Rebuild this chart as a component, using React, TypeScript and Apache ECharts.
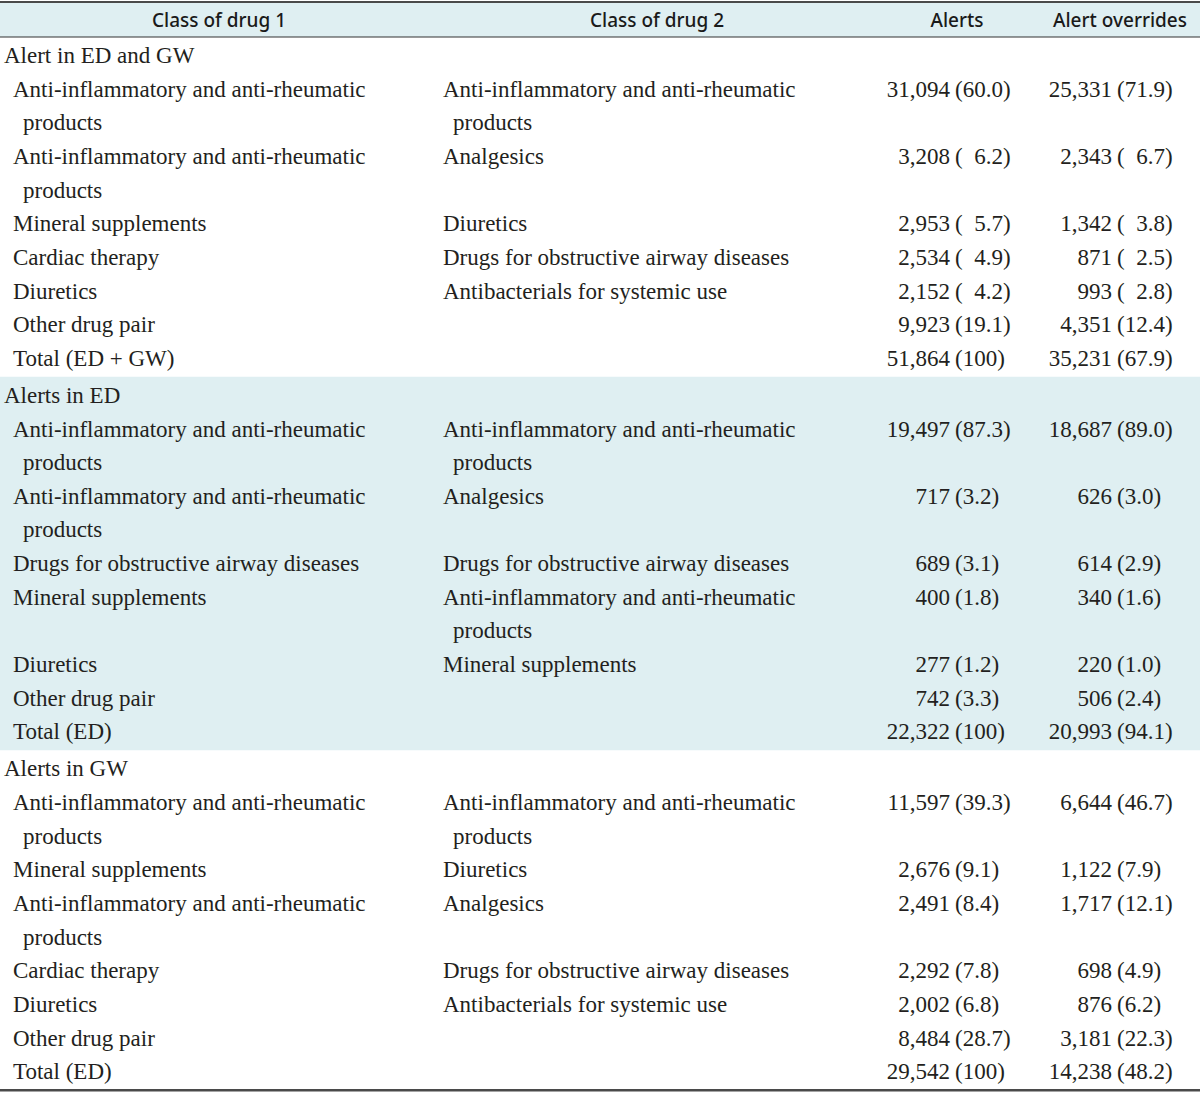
import React, { useEffect, useRef } from "react";
import * as echarts from "echarts";

// ---- Data ----
const headers = ["Class of drug 1", "Class of drug 2", "Alerts", "Alert overrides"];
const sectionTitles = ["Alert in ED and GW", "Alerts in ED", "Alerts in GW"];
const sectionShaded = [false, true, false];
const sectionPadPct = [true, false, false];

const drug1_all = ["Anti-inflammatory and anti-rheumatic products", "Anti-inflammatory and anti-rheumatic products", "Mineral supplements", "Cardiac therapy", "Diuretics", "Other drug pair", "Total (ED + GW)"];
const drug2_all = ["Anti-inflammatory and anti-rheumatic products", "Analgesics", "Diuretics", "Drugs for obstructive airway diseases", "Antibacterials for systemic use", "", ""];
const alerts_all = [31094, 3208, 2953, 2534, 2152, 9923, 51864];
const alertsPct_all = [60.0, 6.2, 5.7, 4.9, 4.2, 19.1, 100];
const overrides_all = [25331, 2343, 1342, 871, 993, 4351, 35231];
const overridesPct_all = [71.9, 6.7, 3.8, 2.5, 2.8, 12.4, 67.9];

const drug1_ed = ["Anti-inflammatory and anti-rheumatic products", "Anti-inflammatory and anti-rheumatic products", "Drugs for obstructive airway diseases", "Mineral supplements", "Diuretics", "Other drug pair", "Total (ED)"];
const drug2_ed = ["Anti-inflammatory and anti-rheumatic products", "Analgesics", "Drugs for obstructive airway diseases", "Anti-inflammatory and anti-rheumatic products", "Mineral supplements", "", ""];
const alerts_ed = [19497, 717, 689, 400, 277, 742, 22322];
const alertsPct_ed = [87.3, 3.2, 3.1, 1.8, 1.2, 3.3, 100];
const overrides_ed = [18687, 626, 614, 340, 220, 506, 20993];
const overridesPct_ed = [89.0, 3.0, 2.9, 1.6, 1.0, 2.4, 94.1];

const drug1_gw = ["Anti-inflammatory and anti-rheumatic products", "Mineral supplements", "Anti-inflammatory and anti-rheumatic products", "Cardiac therapy", "Diuretics", "Other drug pair", "Total (ED)"];
const drug2_gw = ["Anti-inflammatory and anti-rheumatic products", "Diuretics", "Analgesics", "Drugs for obstructive airway diseases", "Antibacterials for systemic use", "", ""];
const alerts_gw = [11597, 2676, 2491, 2292, 2002, 8484, 29542];
const alertsPct_gw = [39.3, 9.1, 8.4, 7.8, 6.8, 28.7, 100];
const overrides_gw = [6644, 1122, 1717, 698, 876, 3181, 14238];
const overridesPct_gw = [46.7, 7.9, 12.1, 4.9, 6.2, 22.3, 48.2];

const sections = [
  { d1: drug1_all, d2: drug2_all, a: alerts_all, ap: alertsPct_all, o: overrides_all, op: overridesPct_all },
  { d1: drug1_ed, d2: drug2_ed, a: alerts_ed, ap: alertsPct_ed, o: overrides_ed, op: overridesPct_ed },
  { d1: drug1_gw, d2: drug2_gw, a: alerts_gw, ap: alertsPct_gw, o: overrides_gw, op: overridesPct_gw },
];

// ---- Layout / style ----
const W = 1200;
const H = 1094;
const BODY_FONT = "'Liberation Serif', 'Times New Roman', serif";
const HEAD_FONT = "'Noto Sans', 'Open Sans', sans-serif";
const BODY_SIZE = 23;
const HEAD_SIZE = 19;
const TEXT_COLOR = "#231f20";
const SHADE = "#dfeff2";
const HEADER_TOP = 2;
const HEADER_BOTTOM = 37;
const LINE_STEP = 33.65;
const SEC_PAD = 18.5;
const WRAP_WIDTH = 395;
const X_TITLE = 4;
const X_D1 = 13;
const X_D2 = 443;
const INDENT = 10;
const ALERT_NUM_RIGHT = 950;
const ALERT_PCT_LEFT = 955;
const OVR_NUM_RIGHT = 1112;
const OVR_PCT_LEFT = 1117;
const HEAD_CENTERS = [219, 657, 957, 1120];

function wrap(text: string, ctx: CanvasRenderingContext2D | null): string[] {
  if (!text) return [];
  if (!ctx) return [text];
  const words = text.split(" ");
  const lines: string[] = [];
  let cur = "";
  for (const w of words) {
    const trial = cur ? cur + " " + w : w;
    if (cur && ctx.measureText(trial).width > WRAP_WIDTH) {
      lines.push(cur);
      cur = w;
    } else {
      cur = trial;
    }
  }
  if (cur) lines.push(cur);
  return lines;
}

function fmtPct(v: number, pad: boolean): string {
  const s = v === 100 ? "100" : v.toFixed(1);
  return "(" + (pad && v < 10 ? "\u2007" : "") + s + ")";
}

function buildElements() {
  const canvas = document.createElement("canvas");
  const ctx = canvas.getContext("2d");
  if (ctx) ctx.font = `${BODY_SIZE}px ${BODY_FONT}`;

  const els: any[] = [];
  const bodyText = (x: number, y: number, text: string, align: string) => ({
    type: "text",
    x,
    y,
    silent: true,
    style: {
      text,
      fill: TEXT_COLOR,
      font: `${BODY_SIZE}px ${BODY_FONT}`,
      textAlign: align,
      textVerticalAlign: "middle",
    },
  });

  // header
  els.push({ type: "rect", shape: { x: 0, y: HEADER_TOP, width: W, height: HEADER_BOTTOM - HEADER_TOP }, style: { fill: SHADE }, silent: true });
  headers.forEach((h, i) => {
    els.push({
      type: "text",
      x: HEAD_CENTERS[i],
      y: (HEADER_TOP + HEADER_BOTTOM) / 2 + 0.5,
      silent: true,
      style: { text: h, fill: "#1a1a1a", font: `500 ${HEAD_SIZE}px ${HEAD_FONT}`, textAlign: "center", textVerticalAlign: "middle" },
    });
  });

  let top = HEADER_BOTTOM;
  const textEls: any[] = [];
  sections.forEach((sec, si) => {
    let line = 0;
    const ly = (k: number) => top + SEC_PAD + k * LINE_STEP;
    textEls.push(bodyText(X_TITLE, ly(line), sectionTitles[si], "left"));
    line++;
    sec.d1.forEach((name, ri) => {
      const l1 = wrap(name, ctx);
      const l2 = wrap(sec.d2[ri], ctx);
      l1.forEach((t, k) => textEls.push(bodyText(X_D1 + (k > 0 ? INDENT : 0), ly(line + k), t, "left")));
      l2.forEach((t, k) => textEls.push(bodyText(X_D2 + (k > 0 ? INDENT : 0), ly(line + k), t, "left")));
      textEls.push(bodyText(ALERT_NUM_RIGHT, ly(line), sec.a[ri].toLocaleString("en-US"), "right"));
      textEls.push(bodyText(ALERT_PCT_LEFT, ly(line), fmtPct(sec.ap[ri], sectionPadPct[si]), "left"));
      textEls.push(bodyText(OVR_NUM_RIGHT, ly(line), sec.o[ri].toLocaleString("en-US"), "right"));
      textEls.push(bodyText(OVR_PCT_LEFT, ly(line), fmtPct(sec.op[ri], sectionPadPct[si]), "left"));
      line += Math.max(l1.length, l2.length, 1);
    });
    const height = 2 * SEC_PAD + (line - 1) * LINE_STEP;
    if (sectionShaded[si]) {
      els.push({ type: "rect", shape: { x: 0, y: top, width: W, height }, style: { fill: SHADE }, silent: true });
    }
    top += height;
  });

  els.push(...textEls);
  // rules
  els.push({ type: "line", shape: { x1: 0, y1: HEADER_TOP, x2: W, y2: HEADER_TOP }, style: { stroke: "#4a4a4a", lineWidth: 2 }, silent: true });
  els.push({ type: "line", shape: { x1: 0, y1: HEADER_BOTTOM, x2: W, y2: HEADER_BOTTOM }, style: { stroke: "#333", lineWidth: 1.2 }, silent: true });
  els.push({ type: "line", shape: { x1: 0, y1: top, x2: W, y2: top }, style: { stroke: "#4a4a4a", lineWidth: 2.5 }, silent: true });
  return els;
}

export default function App() {
  const ref = useRef<HTMLDivElement>(null);
  useEffect(() => {
    if (!ref.current) return;
    const chart = echarts.init(ref.current, undefined, { renderer: "svg", width: W, height: H });
    chart.setOption({
      animation: false,
      backgroundColor: "#ffffff",
      graphic: { elements: buildElements() },
    });
    return () => chart.dispose();
  }, []);
  return (
    <div
      ref={ref}
      style={{ position: "absolute", left: 0, top: 0, width: W, height: H, background: "#fff" }}
    />
  );
}
